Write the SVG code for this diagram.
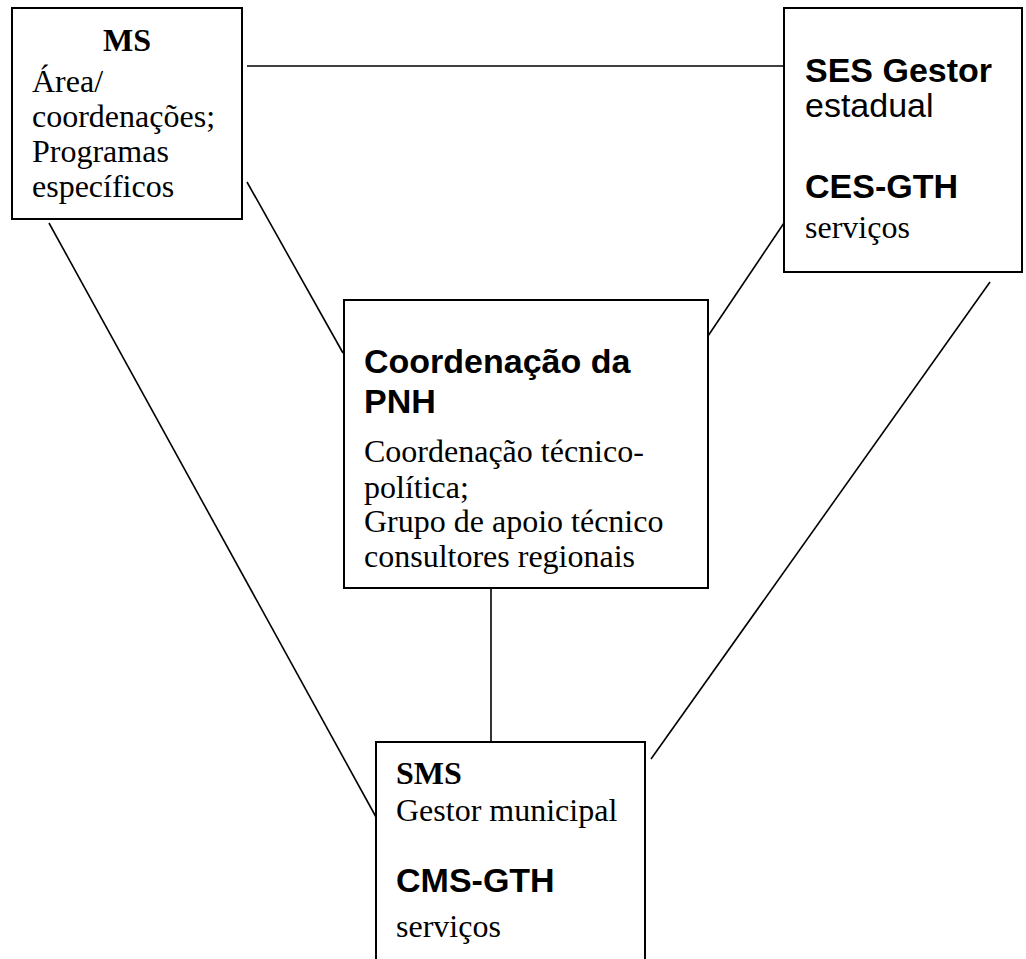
<svg xmlns="http://www.w3.org/2000/svg" width="1026" height="959" viewBox="0 0 1026 959">
<style>
.box{fill:#fff;stroke:#000;stroke-width:2}
.ln{stroke:#000;stroke-width:1.6;fill:none}
.t{font-family:"Liberation Serif","Times New Roman",serif;font-size:32px;fill:#000}
.tb{font-family:"Liberation Serif","Times New Roman",serif;font-size:32px;font-weight:bold;fill:#000}
.s{font-family:"Liberation Sans",Arial,sans-serif;font-size:34px;fill:#000}
.sb{font-family:"Liberation Sans",Arial,sans-serif;font-size:34px;font-weight:bold;fill:#000}
</style>
<rect width="1026" height="959" fill="#fff"/>
<g id="connectors">
<line class="ln" x1="247" y1="66" x2="784" y2="66"/>
<line class="ln" x1="247" y1="182" x2="343" y2="353"/>
<line class="ln" x1="784" y1="223" x2="708" y2="336"/>
<line class="ln" x1="990" y1="282" x2="651" y2="759"/>
<line class="ln" x1="49" y1="223" x2="376" y2="817"/>
<line class="ln" x1="491" y1="588" x2="491" y2="742"/>
</g>
<g id="ms">
<rect class="box" x="12" y="8" width="230" height="211"/>
<text class="tb" x="127" y="51" text-anchor="middle">MS</text>
<text class="t" x="32" y="92">Área/</text>
<text class="t" x="32" y="127">coordenações;</text>
<text class="t" x="32" y="162">Programas</text>
<text class="t" x="32" y="197">específicos</text>
</g>
<g id="ses">
<rect class="box" x="784" y="8" width="238" height="264"/>
<text class="sb" x="805" y="82">SES Gestor</text>
<text class="s" x="805" y="117">estadual</text>
<text class="sb" x="805" y="198">CES-GTH</text>
<text class="t" x="805" y="238">serviços</text>
</g>
<g id="pnh">
<rect class="box" x="344" y="300" width="364" height="288"/>
<text class="sb" x="364" y="373">Coordenação da</text>
<text class="sb" x="364" y="413">PNH</text>
<text class="t" x="364" y="462">Coordenação técnico-</text>
<text class="t" x="364" y="498">política;</text>
<text class="t" x="364" y="532">Grupo de apoio técnico</text>
<text class="t" x="364" y="567">consultores regionais</text>
</g>
<g id="sms">
<rect class="box" x="376" y="742" width="269" height="240"/>
<text class="tb" x="396" y="784">SMS</text>
<text class="t" x="396" y="821">Gestor municipal</text>
<text class="sb" x="396" y="892">CMS-GTH</text>
<text class="t" x="396" y="937">serviços</text>
</g>
</svg>
